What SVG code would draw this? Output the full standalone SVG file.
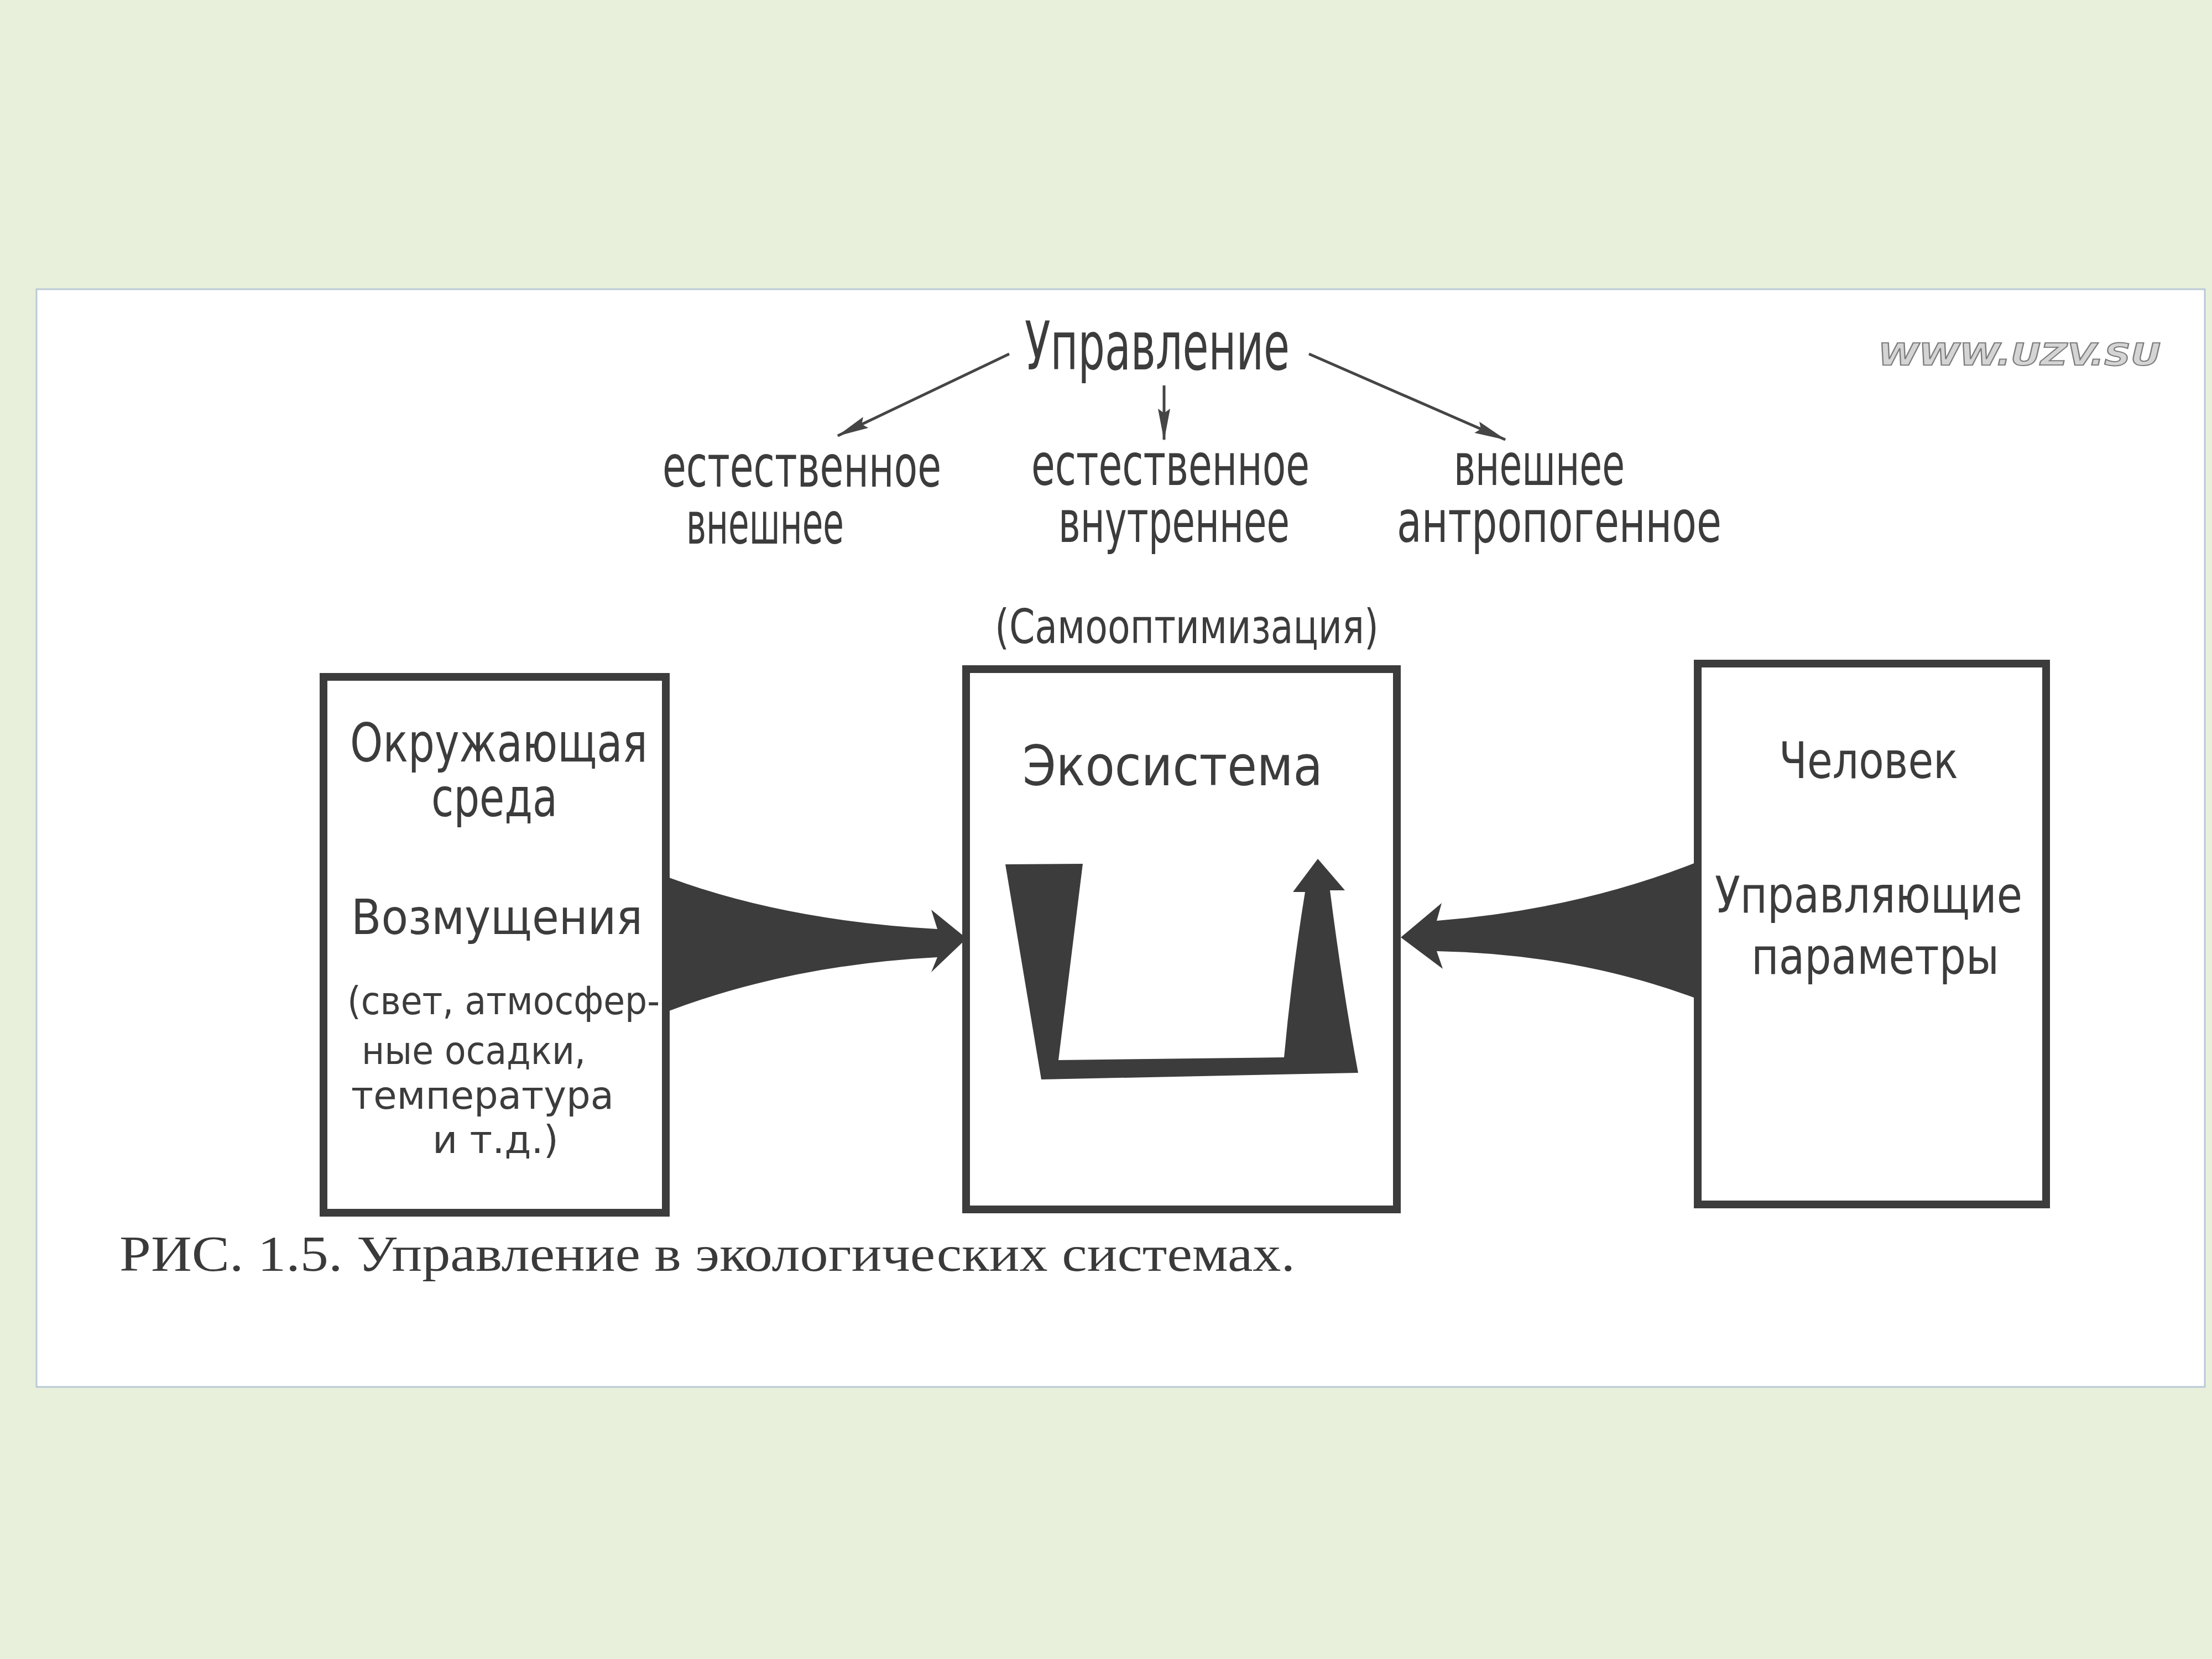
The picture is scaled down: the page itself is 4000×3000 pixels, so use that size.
<svg xmlns="http://www.w3.org/2000/svg" width="4000" height="3000" viewBox="0 0 4000 3000">
<style>
.bg{fill:#e8f0db}
.panel{fill:#ffffff;stroke:#b9c9d6;stroke-width:3}
.box{fill:#ffffff;stroke:#3c3c3c;stroke-width:14}
.t{font-family:"DejaVu Sans","Liberation Sans",sans-serif;fill:#3c3c3c}
.cap{font-family:"Liberation Serif",serif;fill:#3a3a3a}
.wm{font-family:"DejaVu Sans","Liberation Sans",sans-serif;font-weight:bold;font-style:italic;fill:#d4d4d4;stroke:#7d7d7d;stroke-width:2}
.thin{stroke:#454545;stroke-width:5;fill:none;marker-end:url(#ah)}
.fat{fill:#3c3c3c}
</style>
<defs>
<marker id="ah" markerUnits="userSpaceOnUse" markerWidth="60" markerHeight="24" refX="56" refY="12" orient="auto">
<path d="M0,1 L58,12 L0,23 L8,12 Z" fill="#454545"/>
</marker>
</defs>
<rect class="bg" x="0" y="0" width="4000" height="3000"/>
<rect class="panel" x="66" y="523" width="3921" height="1985"/>

<text class="wm" x="3396" y="660" font-size="56" textLength="511" lengthAdjust="spacingAndGlyphs">WWW.UZV.SU</text>

<g id="upravlenie">
<text class="t" x="1853" y="668" font-size="122" textLength="479" lengthAdjust="spacingAndGlyphs">Управление</text>
</g>
<g id="estestvennoe-vneshnee">
<text class="t" x="1198" y="880" font-size="106" textLength="504" lengthAdjust="spacingAndGlyphs">естественное</text>
<text class="t" x="1241" y="983" font-size="106" textLength="285" lengthAdjust="spacingAndGlyphs">внешнее</text>
</g>
<g id="estestvennoe-vnutrennee">
<text class="t" x="1865" y="877" font-size="106" textLength="503" lengthAdjust="spacingAndGlyphs">естественное</text>
<text class="t" x="1914" y="980" font-size="106" textLength="418" lengthAdjust="spacingAndGlyphs">внутреннее</text>
<text class="t" x="1799" y="1163" font-size="86" textLength="694" lengthAdjust="spacingAndGlyphs">(Самооптимизация)</text>
</g>
<g id="vneshnee-antropogennoe">
<text class="t" x="2629" y="877" font-size="106" textLength="309" lengthAdjust="spacingAndGlyphs">внешнее</text>
<text class="t" x="2526" y="980" font-size="106" textLength="587" lengthAdjust="spacingAndGlyphs">антропогенное</text>
</g>

<g id="okruzhayushchaya-sreda">
<rect class="box" x="585" y="1224" width="619" height="969"/>
<text class="t" x="633" y="1377" font-size="96" textLength="538" lengthAdjust="spacingAndGlyphs">Окружающая</text>
<text class="t" x="780" y="1476" font-size="96" textLength="228" lengthAdjust="spacingAndGlyphs">среда</text>
<text class="t" x="635" y="1689" font-size="88" textLength="527" lengthAdjust="spacingAndGlyphs">Возмущения</text>
<text class="t" x="628" y="1834" font-size="70" textLength="565" lengthAdjust="spacingAndGlyphs">(свет, атмосфер-</text>
<text class="t" x="654" y="1924" font-size="70" textLength="405" lengthAdjust="spacingAndGlyphs">ные  осадки,</text>
<text class="t" x="635" y="2005" font-size="70" textLength="475" lengthAdjust="spacingAndGlyphs">температура</text>
<text class="t" x="782" y="2085" font-size="70" textLength="228" lengthAdjust="spacingAndGlyphs">и т.д.)</text>
</g>

<g id="ekosistema">
<rect class="box" x="1747" y="1210" width="779" height="977"/>
<text class="t" x="1849" y="1420" font-size="100" textLength="543" lengthAdjust="spacingAndGlyphs">Экосистема</text>
<path class="fat" d="M1818,1563 L1958,1562 L1914,1917 L2322,1912 Q2336,1760 2360,1613 L2338,1613 L2383,1553 L2432,1610 L2405,1610 Q2428,1790 2456,1940 L1883,1952 Z"/>
</g>

<g id="chelovek">
<rect class="box" x="3070" y="1200" width="630" height="978"/>
<text class="t" x="3217" y="1407" font-size="90" textLength="324" lengthAdjust="spacingAndGlyphs">Человек</text>
<text class="t" x="3101" y="1650" font-size="90" textLength="556" lengthAdjust="spacingAndGlyphs">Управляющие</text>
<text class="t" x="3167" y="1761" font-size="90" textLength="448" lengthAdjust="spacingAndGlyphs">параметры</text>
</g>

<g id="connectors">
<line class="thin" x1="1825" y1="640" x2="1515" y2="788"/>
<line class="thin" x1="2105" y1="697" x2="2105" y2="795"/>
<line class="thin" x1="2367" y1="640" x2="2722" y2="795"/>
<path class="fat" d="M1210,1587 Q1420,1665 1695,1680 L1684,1645 L1748,1697 L1684,1758 L1695,1731 Q1430,1745 1210,1828 Z"/>
<path class="fat" d="M3066,1560 Q2850,1645 2598,1665 L2607,1633 L2533,1695 L2609,1752 L2598,1720 Q2850,1725 3066,1805 Z"/>
</g>

<text class="cap" x="216" y="2298" font-size="92" textLength="2126" lengthAdjust="spacingAndGlyphs">РИС. 1.5. Управление в экологических системах.</text>
</svg>
